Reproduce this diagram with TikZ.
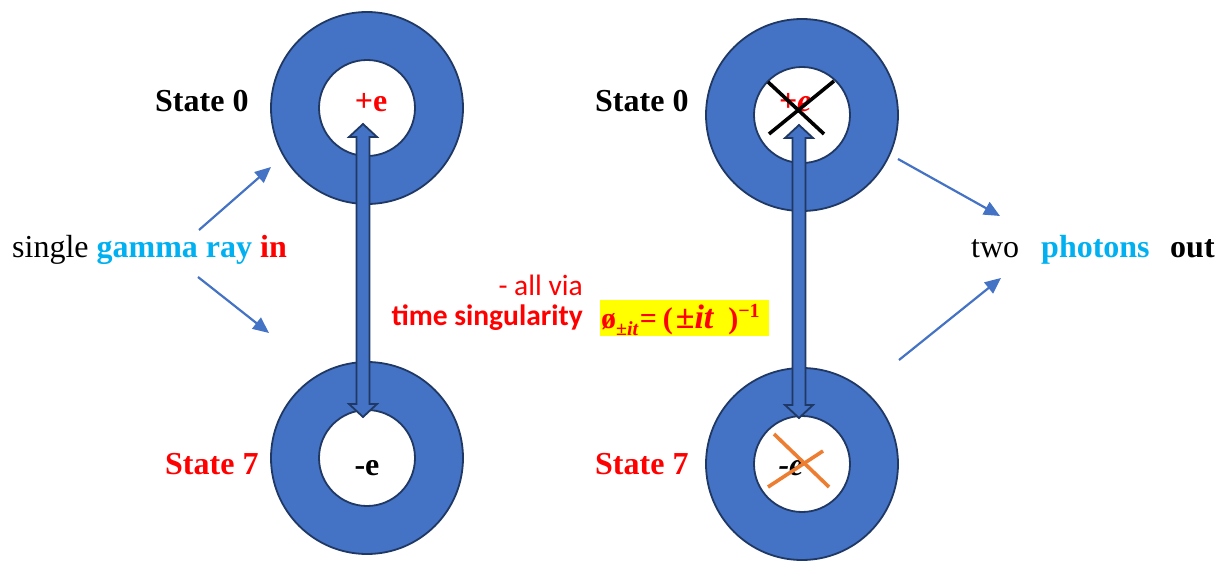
\documentclass[tikz,border=0pt]{standalone}
\usepackage{fontspec}
\setmainfont{Liberation Serif}
\newfontfamily\calib{Carlito}
\usetikzlibrary{arrows.meta,calc}
\definecolor{ringblue}{HTML}{4472C4}
\definecolor{navy}{HTML}{1F3864}
\definecolor{gblue}{HTML}{00B0F0}
\definecolor{myred}{HTML}{FF0000}
\definecolor{myorange}{HTML}{ED7D31}
\definecolor{myyellow}{HTML}{FFFF00}
\newcommand{\dblarr}[2]{%
\draw[dbl] (#1) -- ++(14,13) -- ++(-7.5,0) -- ($(#2)+(6.5,-13)$) -- ++(7.5,0) -- (#2)
  -- ++(-14,-13) -- ++(7.5,0) -- ($(#1)+(-6.5,13)$) -- ++(-7.5,0) -- cycle;}
\newcommand{\bi}[1]{\textbf{\textit{#1}}}
\newcommand{\fsz}[1]{\fontsize{#1}{#1}\selectfont}
\tikzset{
  outerring/.style={circle,fill=ringblue,draw=navy,line width=1.8pt,minimum size=192pt,inner sep=0pt},
  innerhole/.style={circle,fill=white,draw=navy,line width=1.8pt,minimum size=96pt,inner sep=0pt},
  dbl/.style={fill=ringblue,draw=navy,line width=1.8pt,line join=miter},
  thinarr/.style={draw=ringblue,line width=2.2pt,-{Triangle[length=16pt,width=14pt]}},
  tm/.style={font=\fontsize{32}{38}\selectfont,inner sep=0pt},
  sn/.style={font=\calib\fontsize{29.5}{35}\selectfont,text=myred,inner sep=0pt},
  xline/.style={line width=3.6pt},
  frmbox/.style={fill=myyellow,minimum width=169pt,minimum height=36pt,inner sep=0pt,anchor=north west},
  frmtext/.style={inner sep=0pt,anchor=base west,text=myred}
}
\begin{document}
\begin{tikzpicture}[x=1pt,y=-1pt]
\useasboundingbox (0,0) rectangle (1226,561);
% rings
\node[outerring] (LT) at (367,108) {};
\node[innerhole] (LTi) at (367,108) {};
\node[outerring] (LB) at (367,458) {};
\node[innerhole] (LBi) at (367,458) {};
\node[outerring] (RT) at (802,115) {};
\node[innerhole] (RTi) at (802,115) {};
\node[outerring] (RB) at (802,464) {};
\node[innerhole] (RBi) at (802,464) {};
% charges
\node[tm,anchor=base,text=myred] (pe1) at (371,112) {\textbf{+e}};
\node[tm,anchor=base] (me1) at (367,475) {\textbf{-e}};
\node[tm,anchor=base,text=myred] (pe2) at (795,112) {\bi{+e}};
\node[tm,anchor=base] (me2) at (791,475) {\bi{-e}};
% double arrows
\coordinate (a1t) at (363,124);
\coordinate (a1b) at (363,417);
\coordinate (a2t) at (799,125);
\coordinate (a2b) at (799,418);
\dblarr{a1t}{a1b}
\dblarr{a2t}{a2b}
% crosses
\draw[xline,black] (768,82) -- (824,134);
\draw[xline,black] (834,81) -- (769,134);
\draw[xline,myorange] (774,434) -- (829,487);
\draw[xline,myorange] (823,451) -- (768,487);
% state labels
\node[tm,anchor=base west] (s0l) at (155,112) {\textbf{State 0}};
\node[tm,anchor=base west,text=myred] (s7l) at (165,474) {\textbf{State 7}};
\node[tm,anchor=base west] (s0r) at (595,112) {\textbf{State 0}};
\node[tm,anchor=base west,text=myred] (s7r) at (595,474) {\textbf{State 7}};
% left text
\node[tm,anchor=base west] (gin) at (12,258) {single \textcolor{gblue}{\textbf{gamma ray}} \textcolor{myred}{\textbf{in}}};
% right text
\node[tm,anchor=base west] (two) at (971,258) {two};
\node[tm,anchor=base west,text=gblue] (pho) at (1041,258) {\textbf{photons}};
\node[tm,anchor=base west] (out) at (1170,258) {\textbf{out}};
% thin arrows
\coordinate (g1s) at (199,230); \coordinate (g1e) at (271,167);
\coordinate (g2s) at (198,277); \coordinate (g2e) at (269,333);
\coordinate (p1s) at (898,159); \coordinate (p1e) at (1000,216);
\coordinate (p2s) at (899,360); \coordinate (p2e) at (1001,278);
\draw[thinarr] (g1s) -- (g1e);
\draw[thinarr] (g2s) -- (g2e);
\draw[thinarr] (p1s) -- (p1e);
\draw[thinarr] (p2s) -- (p2e);
% middle text
\node[sn,anchor=base east] (via) at (583,295) {- all via};
\node[sn,anchor=base east] (ts) at (583,325) {\bfseries time singularity};
\node[frmbox] (frmbg) at (600,300) {};
\node[frmtext] (frm) at (601,328) {{\fsz{30}\textbf{ø}}\raisebox{-7pt}{\fsz{20}\bi{±it}}\hspace{1pt}{\fsz{30}\textbf{=}\hspace{6pt}\textbf{(}\hspace{3pt}}{\fsz{34}\bi{±it}}{\fsz{30}\hspace{14pt}\textbf{)}}\raisebox{11pt}{\fsz{20}\textbf{−1}}};
\end{tikzpicture}
\end{document}
